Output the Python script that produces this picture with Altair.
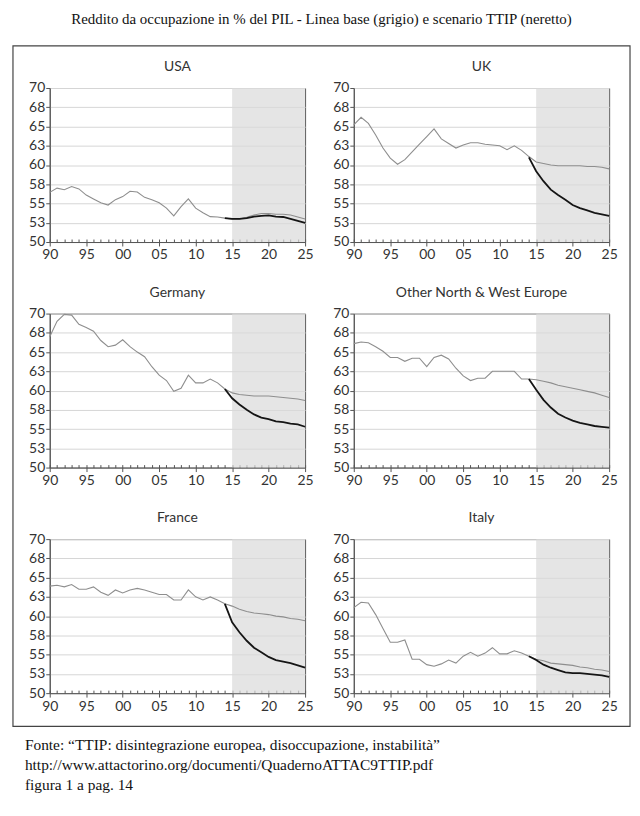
import altair as alt
import pandas as pd

YEARS = list(range(1990, 2026))
TTIP_YEARS = list(range(2014, 2026))
FORECAST = (2015, 2025)

usa_base = [56.45, 57.0, 56.8, 57.2, 56.9, 56.1, 55.6, 55.1, 54.8, 55.5, 55.9, 56.6,
            56.5, 55.8, 55.5, 55.1, 54.4, 53.4, 54.6, 55.6, 54.4, 53.8, 53.3, 53.25,
            53.1, 53.0, 53.0, 53.2, 53.5, 53.7, 53.7, 53.6, 53.6, 53.5, 53.25, 53.0]
usa_ttip = [53.1, 53.0, 53.0, 53.1, 53.3, 53.4, 53.45, 53.3, 53.25, 53.0, 52.75, 52.5]

uk_base = [65.2, 66.2, 65.4, 63.9, 62.2, 60.9, 60.1, 60.7, 61.7, 62.7, 63.7, 64.7,
           63.4, 62.8, 62.2, 62.6, 62.9, 62.9, 62.7, 62.6, 62.5, 62.0, 62.5, 61.9,
           61.1, 60.4, 60.2, 60.0, 59.9, 59.9, 59.9, 59.9, 59.8, 59.8, 59.7, 59.5]
uk_ttip = [61.0, 59.2, 57.9, 56.8, 56.1, 55.5, 54.8, 54.4, 54.1, 53.8, 53.6, 53.4]

ger_base = [67.0, 69.0, 69.9, 69.8, 68.6, 68.2, 67.7, 66.5, 65.7, 65.9, 66.6, 65.7,
            65.0, 64.4, 63.1, 62.0, 61.3, 59.9, 60.3, 62.0, 61.0, 61.0, 61.5, 61.0,
            60.2, 59.7, 59.5, 59.4, 59.3, 59.3, 59.3, 59.2, 59.1, 59.0, 58.9, 58.7]
ger_ttip = [60.2, 59.0, 58.2, 57.5, 56.9, 56.5, 56.3, 56.0, 55.9, 55.7, 55.6, 55.3]

onw_base = [66.1, 66.3, 66.2, 65.7, 65.1, 64.3, 64.3, 63.8, 64.2, 64.2, 63.1, 64.3,
            64.6, 64.1, 62.9, 61.9, 61.3, 61.6, 61.6, 62.5, 62.5, 62.5, 62.5, 61.5,
            61.5, 61.4, 61.2, 61.0, 60.7, 60.5, 60.3, 60.1, 59.9, 59.7, 59.4, 59.1]
onw_ttip = [61.5, 60.1, 58.8, 57.8, 57.0, 56.5, 56.1, 55.8, 55.6, 55.4, 55.3, 55.2]

fra_base = [63.9, 64.0, 63.8, 64.1, 63.5, 63.5, 63.8, 63.1, 62.7, 63.4, 63.0, 63.4,
            63.6, 63.4, 63.1, 62.8, 62.8, 62.1, 62.1, 63.4, 62.5, 62.1, 62.5, 62.1,
            61.6, 61.3, 60.9, 60.6, 60.4, 60.3, 60.2, 60.0, 59.9, 59.7, 59.6, 59.4]
fra_ttip = [61.6, 59.2, 57.9, 56.8, 55.9, 55.3, 54.7, 54.3, 54.1, 53.9, 53.6, 53.3]

ita_base = [61.1, 61.8, 61.7, 60.2, 58.4, 56.6, 56.6, 56.9, 54.4, 54.4, 53.7, 53.5,
            53.8, 54.3, 53.9, 54.8, 55.3, 54.8, 55.2, 55.9, 55.1, 55.1, 55.5, 55.2,
            54.8, 54.4, 54.2, 53.9, 53.8, 53.7, 53.6, 53.4, 53.3, 53.1, 53.0, 52.8]
ita_ttip = [54.8, 54.3, 53.7, 53.3, 53.0, 52.7, 52.6, 52.6, 52.5, 52.4, 52.3, 52.1]

X_TICKS = [1990, 1995, 2000, 2005, 2010, 2015, 2020, 2025]
X_LABELS = ["90", "95", "00", "05", "10", "15", "20", "25"]
Y_TICKS = [50, 52.5, 55, 57.5, 60, 62.5, 65, 67.5, 70]
Y_LABELS = ["50", "53", "55", "58", "60", "63", "65", "68", "70"]

TITLE = "Reddito da occupazione in % del PIL  - Linea base (grigio) e scenario TTIP (neretto)"
FOOTER = ("Fonte: \u201cTTIP: disintegrazione europea, disoccupazione, instabilit\u00e0\u201d\n"
          "http://www.attactorino.org/documenti/QuadernoATTAC9TTIP.pdf\n"
          "figura 1 a pag. 14")

W, H = 257, 155
AX = "#555555"
LABEL_FONT = "Lato"


def js_list(v):
    return "[" + ",".join(repr(x) if isinstance(x, str) else str(x) for x in v) + "]"


x_label_expr = f"{js_list(X_LABELS)}[indexof({js_list(X_TICKS)}, datum.value)]"
y_label_expr = f"{js_list(Y_LABELS)}[indexof({js_list(Y_TICKS)}, datum.value)]"

x_scale = alt.Scale(domain=[1990, 2025], nice=False, zero=False)
y_scale = alt.Scale(domain=[50, 70], nice=False, zero=False)

main_x_axis = alt.Axis(values=X_TICKS, labelExpr=x_label_expr, grid=False, title=None,
                       orient="bottom", tickSize=4, tickColor=AX, domainColor=AX,
                       labelFont=LABEL_FONT, labelFontSize=14, labelColor="#333333",
                       labelPadding=2, labelFlush=False, labelOverlap=False)
minor_x_axis = alt.Axis(values=YEARS, labels=False, grid=False, title=None, domain=False,
                        orient="bottom", tickSize=3, offset=-3, tickColor=AX)
main_y_axis = alt.Axis(values=Y_TICKS, labelExpr=y_label_expr, grid=True, title=None,
                       gridColor="#d6d6d6", tickSize=4, tickColor=AX, domainColor=AX,
                       labelFont=LABEL_FONT, labelFontSize=14, labelColor="#333333",
                       labelPadding=1, labelOverlap=False, labelFlush=False)

one_row = pd.DataFrame({"k": [0]})


def panel(name, base, ttip, extras=()):
    df_base = pd.DataFrame({"year": YEARS, "value": base})
    df_ttip = pd.DataFrame({"year": TTIP_YEARS, "value": ttip})

    shade = alt.Chart(one_row).mark_rect(color="#dadada", opacity=0.7).encode(
        x=alt.X(datum=FORECAST[0], scale=x_scale, axis=minor_x_axis),
        x2=alt.datum(FORECAST[1]),
        y=alt.Y(datum=50, scale=y_scale, axis=main_y_axis),
        y2=alt.datum(70),
    )
    base_line = alt.Chart(df_base).mark_line(color="#8e8e8e", strokeWidth=1.1).encode(
        x=alt.X("year:Q", scale=x_scale, axis=main_x_axis),
        y=alt.Y("value:Q", scale=y_scale, axis=main_y_axis),
    )
    ttip_line = alt.Chart(df_ttip).mark_line(color="#151515", strokeWidth=1.8).encode(
        x=alt.X("year:Q", scale=x_scale, axis=None),
        y=alt.Y("value:Q", scale=y_scale, axis=main_y_axis),
    )
    title = alt.Chart(one_row).mark_text(
        text=name, font=LABEL_FONT, fontSize=14, color="#333333",
        align="center", baseline="alphabetic"
    ).encode(x=alt.value(W / 2), y=alt.value(-17))
    layers = [shade, base_line, ttip_line, title] + list(extras)
    return alt.layer(*layers).resolve_axis(x="independent").properties(width=W, height=H)


border = alt.Chart(one_row).mark_rect(fillOpacity=0, stroke="#444444", strokeWidth=1.2).encode(
    x=alt.value(-37), x2=alt.value(584), y=alt.value(-42.5), y2=alt.value(642.5)
)
footer = alt.Chart(one_row).mark_text(
    text=FOOTER, lineBreak="\n", lineHeight=20, align="left", baseline="top",
    font="Liberation Serif", fontSize=15.5, color="#111111"
).encode(x=alt.value(-25), y=alt.value(200))

charts = [
    panel("USA", usa_base, usa_ttip, [border]),
    panel("UK", uk_base, uk_ttip),
    panel("Germany", ger_base, ger_ttip),
    panel("Other North & West Europe", onw_base, onw_ttip),
    panel("France", fra_base, fra_ttip, [footer]),
    panel("Italy", ita_base, ita_ttip),
]

chart = alt.concat(
    *charts, columns=2, spacing={"row": 72, "column": 49}, bounds="flush"
).properties(
    title=alt.TitleParams(TITLE, font="Liberation Serif", fontSize=15, fontWeight="normal",
                          color="#111111", anchor="middle", offset=18),
    padding={"left": 3, "top": 1, "right": 0, "bottom": 0},
    background="white",
).configure_view(stroke=AX, strokeWidth=1)

chart.save("out.html", embed_options={"renderer": "svg", "actions": False})
